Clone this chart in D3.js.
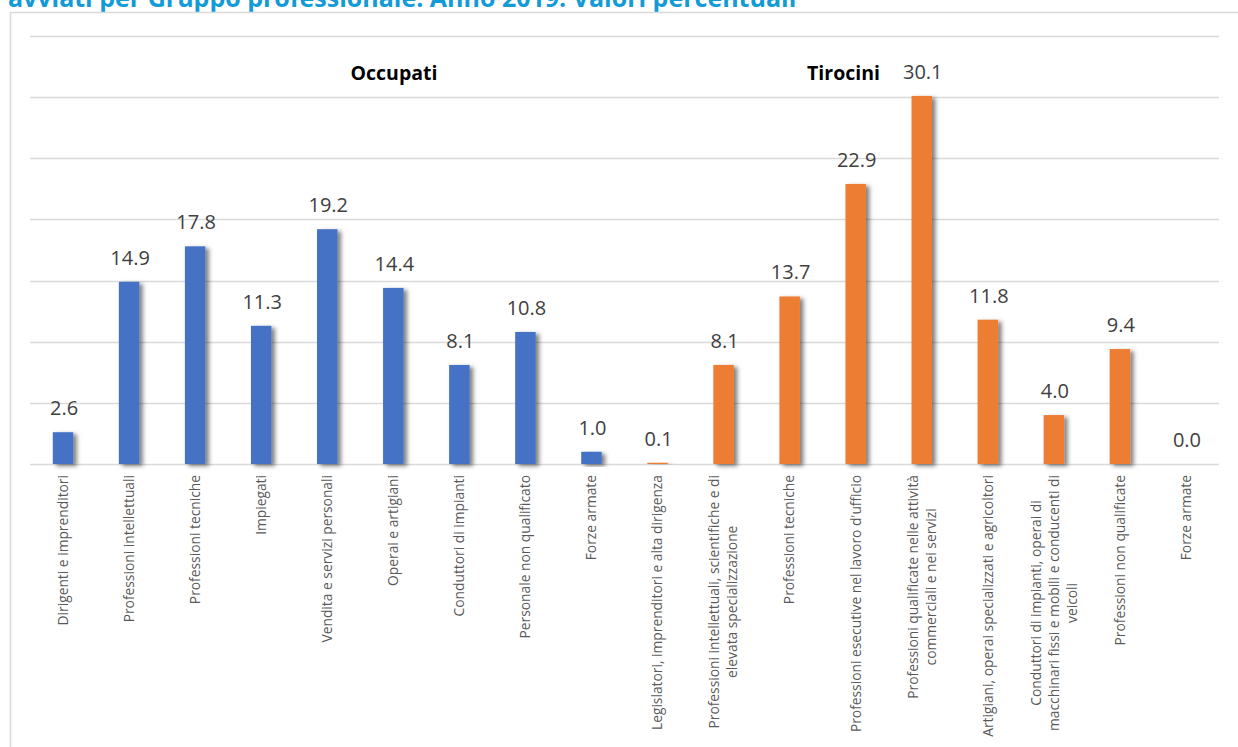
<!DOCTYPE html>
<html>
<head>
<meta charset="utf-8">
<script src="https://cdn.jsdelivr.net/npm/d3@7"></script>
<style>
  html, body { margin: 0; padding: 0; background: #ffffff; }
  svg { display: block; }
</style>
</head>
<body>
<svg id="chart" width="1238" height="747"></svg>
<script>
const titleText = "avviati per Gruppo professionale. Anno 2019. Valori percentuali";

const occupatiCategories = [
  "Dirigenti e imprenditori",
  "Professioni intellettuali",
  "Professioni tecniche",
  "Impiegati",
  "Vendita e servizi personali",
  "Operai e artigiani",
  "Conduttori di impianti",
  "Personale non qualificato",
  "Forze armate"
];
const occupatiValues = [2.6, 14.9, 17.8, 11.3, 19.2, 14.4, 8.1, 10.8, 1.0];

const tirociniCategories = [
  "Legislatori, imprenditori e alta dirigenza",
  "Professioni intellettuali, scientifiche e di\nelevata specializzazione",
  "Professioni tecniche",
  "Professioni esecutive nel lavoro d'ufficio",
  "Professioni qualificate nelle attività\ncommerciali e nei servizi",
  "Artigiani, operai specializzati e agricoltori",
  "Conduttori di impianti, operai di\nmacchinari fissi e mobili e conducenti di\nveicoli",
  "Professioni non qualificate",
  "Forze armate"
];
const tirociniValues = [0.1, 8.1, 13.7, 22.9, 30.1, 11.8, 4.0, 9.4, 0.0];

const groupLabels = ["Occupati", "Tirocini"];
const yTicks = [0, 5, 10, 15, 20, 25, 30, 35];
const colors = { Occupati: "#4472C4", Tirocini: "#ED7D31" };

const rows = [
  ...occupatiCategories.map((c, i) => ({ cat: c, value: occupatiValues[i], group: "Occupati" })),
  ...tirociniCategories.map((c, i) => ({ cat: c, value: tirociniValues[i], group: "Tirocini" }))
];
rows.forEach((d, i) => d.idx = i);

const svg = d3.select("#chart");

// filter for bar shadow
const defs = svg.append("defs");
const f = defs.append("filter").attr("id", "shadow")
  .attr("x", "-50%").attr("y", "-10%").attr("width", "200%").attr("height", "130%");
f.append("feDropShadow").attr("dx", 3.5).attr("dy", 2).attr("stdDeviation", 2.2)
  .attr("flood-color", "#000").attr("flood-opacity", 0.5);

// title (partially cut off at top, as in the reference)
svg.append("text")
  .attr("x", 8).attr("y", 7)
  .attr("font-family", "Open Sans, sans-serif")
  .attr("font-weight", "bold")
  .attr("font-size", 25)
  .attr("fill", "#129BD6")
  .text(titleText);

// frame
svg.append("path")
  .attr("d", "M10.5,747 L10.5,12.5 L1238,12.5")
  .attr("fill", "none").attr("stroke", "#d9d9d9").attr("stroke-width", 1.5);

const x = d3.scaleBand()
  .domain(rows.map(d => d.idx))
  .range([30, 1219])
  .paddingInner(0.69)
  .paddingOuter(0.345);

const y = d3.scaleLinear().domain([0, 35]).range([464, 36]);

// gridlines
svg.append("g")
  .selectAll("line")
  .data(yTicks)
  .join("line")
  .attr("x1", 30).attr("x2", 1219)
  .attr("y1", d => Math.round(y(d)) + 0.5)
  .attr("y2", d => Math.round(y(d)) + 0.5)
  .attr("stroke", "#d9d9d9").attr("stroke-width", 1.5);

// bars
svg.append("g")
  .selectAll("rect")
  .data(rows)
  .join("rect")
  .attr("x", d => x(d.idx))
  .attr("width", x.bandwidth())
  .attr("y", d => y(d.value))
  .attr("height", d => y(0) - y(d.value))
  .attr("fill", d => colors[d.group])
  .attr("filter", "url(#shadow)");

// value labels
svg.append("g")
  .selectAll("text")
  .data(rows)
  .join("text")
  .attr("x", d => x(d.idx) + x.bandwidth() / 2 + 1)
  .attr("y", d => y(d.value) - 17)
  .attr("text-anchor", "middle")
  .attr("font-family", "Open Sans, sans-serif")
  .attr("font-size", 20)
  .attr("fill", "#404040")
  .text(d => d.value.toFixed(1));

// category labels (rotated)
const lab = svg.append("g")
  .selectAll("g")
  .data(rows)
  .join("g")
  .attr("transform", d => `translate(${x(d.idx) + x.bandwidth() / 2},0) rotate(-90)`);

lab.each(function (d) {
  const g = d3.select(this);
  const lines = d.cat.split("\n");
  const n = lines.length;
  const texts = lines.map((ln, i) => g.append("text")
    .attr("font-family", "Open Sans, sans-serif")
    .attr("font-size", 13.8)
    .attr("fill", "#595959")
    .attr("text-anchor", "middle")
    .attr("y", (i - (n - 1) / 2) * 18)
    .attr("dy", "0.35em")
    .text(ln));
  const maxLen = d3.max(texts, t => t.node().getComputedTextLength());
  texts.forEach(t => t.attr("x", -(475 + maxLen / 2)));
});

// group headers
svg.append("text")
  .attr("x", 394).attr("y", 80)
  .attr("text-anchor", "middle")
  .attr("font-family", "Open Sans, sans-serif")
  .attr("font-weight", "bold").attr("font-size", 19.5)
  .attr("fill", "#000")
  .text(groupLabels[0]);
svg.append("text")
  .attr("x", 880).attr("y", 80)
  .attr("text-anchor", "end")
  .attr("font-family", "Open Sans, sans-serif")
  .attr("font-weight", "bold").attr("font-size", 19.5)
  .attr("fill", "#000")
  .text(groupLabels[1]);
</script>
</body>
</html>
